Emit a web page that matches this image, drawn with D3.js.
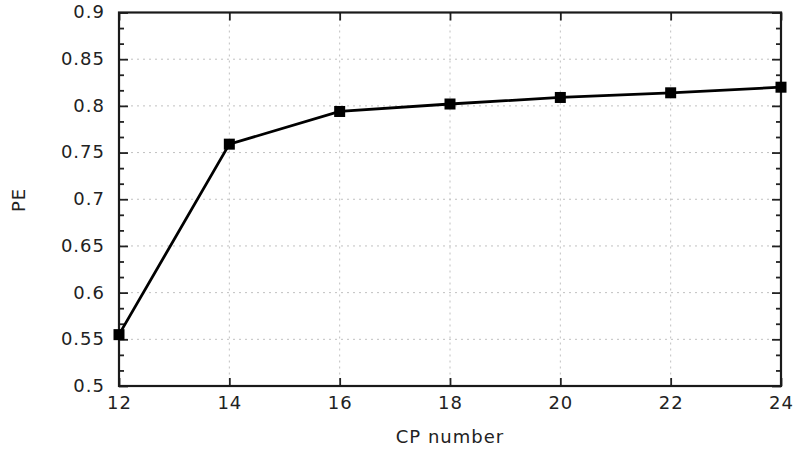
<!DOCTYPE html>
<html>
<head>
<meta charset="utf-8">
<script src="https://cdn.jsdelivr.net/npm/d3@7"></script>
<style>
  body { margin: 0; background: #fff; }
  svg text { font-family: "DejaVu Sans", sans-serif; font-size: 18px; fill: #222; letter-spacing: 1px; }
</style>
</head>
<body>
<div id="app"></div>
<script>
// CP number vs PE
let cpNumbers = [12, 14, 16, 18, 20, 22, 24];
let peValues = [0.555, 0.759, 0.794, 0.802, 0.809, 0.814, 0.820];

let xTicks = [12, 14, 16, 18, 20, 22, 24];
let yTicks = [0.5, 0.55, 0.6, 0.65, 0.7, 0.75, 0.8, 0.85, 0.9];

let margin = { top: 12.5, right: 19, bottom: 66, left: 119 };
let W = 800, H = 452;
let width = W - margin.left - margin.right;
let height = H - margin.top - margin.bottom;

let xScale = d3.scaleLinear().domain([12, 24]).range([0, width]);
let yScale = d3.scaleLinear().domain([0.5, 0.9]).range([height, 0]);

// minor y ticks: two between every major
let yMinor = [];
for (let i = 0; i < yTicks.length - 1; i++) {
  let step = (yTicks[i + 1] - yTicks[i]) / 3;
  yMinor.push(yTicks[i] + step, yTicks[i] + 2 * step);
}

let svg = d3.select('#app').append('svg')
  .attr('width', W)
  .attr('height', H);

let g = svg.append('g')
  .attr('transform', `translate(${margin.left}, ${margin.top})`);

// grid
let grid = g.append('g')
  .attr('stroke', '#c0c0c0')
  .attr('stroke-width', 1)
  .attr('stroke-dasharray', '2,4');

grid.selectAll('line.gx')
  .data(xTicks.slice(1, -1))
  .enter().append('line')
    .attr('x1', d => xScale(d)).attr('x2', d => xScale(d))
    .attr('y1', 0).attr('y2', height);

grid.selectAll('line.gy')
  .data(yTicks.slice(1, -1))
  .enter().append('line')
    .attr('x1', 0).attr('x2', width)
    .attr('y1', d => yScale(d)).attr('y2', d => yScale(d));

let fmt = d => String(+d.toFixed(2));

function styleAxis(sel) {
  sel.select('.domain').remove();
  sel.selectAll('.tick line').attr('stroke', '#222').attr('stroke-width', 1.8);
  sel.selectAll('text').attr('fill', '#222');
}

// left axis, labels
g.append('g')
  .call(d3.axisLeft(yScale).tickValues(yTicks).tickFormat(fmt).tickSize(-9).tickPadding(14))
  .call(styleAxis)
  .selectAll('text').attr('dy', '0.3em');

g.append('g')
  .call(d3.axisLeft(yScale).tickValues(yMinor).tickFormat('').tickSize(-5))
  .call(styleAxis);

// right axis mirror
g.append('g')
  .attr('transform', `translate(${width}, 0)`)
  .call(d3.axisRight(yScale).tickValues(yTicks).tickFormat('').tickSize(-9))
  .call(styleAxis);

g.append('g')
  .attr('transform', `translate(${width}, 0)`)
  .call(d3.axisRight(yScale).tickValues(yMinor).tickFormat('').tickSize(-5))
  .call(styleAxis);

// bottom axis, labels
g.append('g')
  .attr('transform', `translate(0, ${height})`)
  .call(d3.axisBottom(xScale).tickValues(xTicks).tickFormat(d => d).tickSize(-8).tickPadding(10))
  .call(styleAxis)
  .selectAll('text').attr('dy', '0.71em');

// top axis mirror
g.append('g')
  .call(d3.axisTop(xScale).tickValues(xTicks).tickFormat('').tickSize(-8))
  .call(styleAxis);

// frame
g.append('rect')
  .attr('x', 0).attr('y', 0)
  .attr('width', width).attr('height', height)
  .attr('fill', 'none')
  .attr('stroke', '#1a1a1a')
  .attr('stroke-width', 2.2);

// data line
let line = d3.line()
  .x((d, i) => xScale(cpNumbers[i]))
  .y(d => yScale(d));

g.append('path')
  .datum(peValues)
  .attr('d', line)
  .attr('fill', 'none')
  .attr('stroke', '#000')
  .attr('stroke-width', 2.8);

let ms = 11;
g.selectAll('rect.marker')
  .data(peValues)
  .enter().append('rect')
    .attr('class', 'marker')
    .attr('x', (d, i) => xScale(cpNumbers[i]) - ms / 2)
    .attr('y', d => yScale(d) - ms / 2)
    .attr('width', ms).attr('height', ms)
    .attr('fill', '#000');

// axis titles
svg.append('text')
  .attr('x', margin.left + width / 2)
  .attr('y', 443)
  .attr('text-anchor', 'middle')
  .text('CP number');

svg.append('text')
  .attr('transform', `translate(25, 200) rotate(-90)`)
  .attr('text-anchor', 'middle')
  .text('PE');
</script>
</body>
</html>
